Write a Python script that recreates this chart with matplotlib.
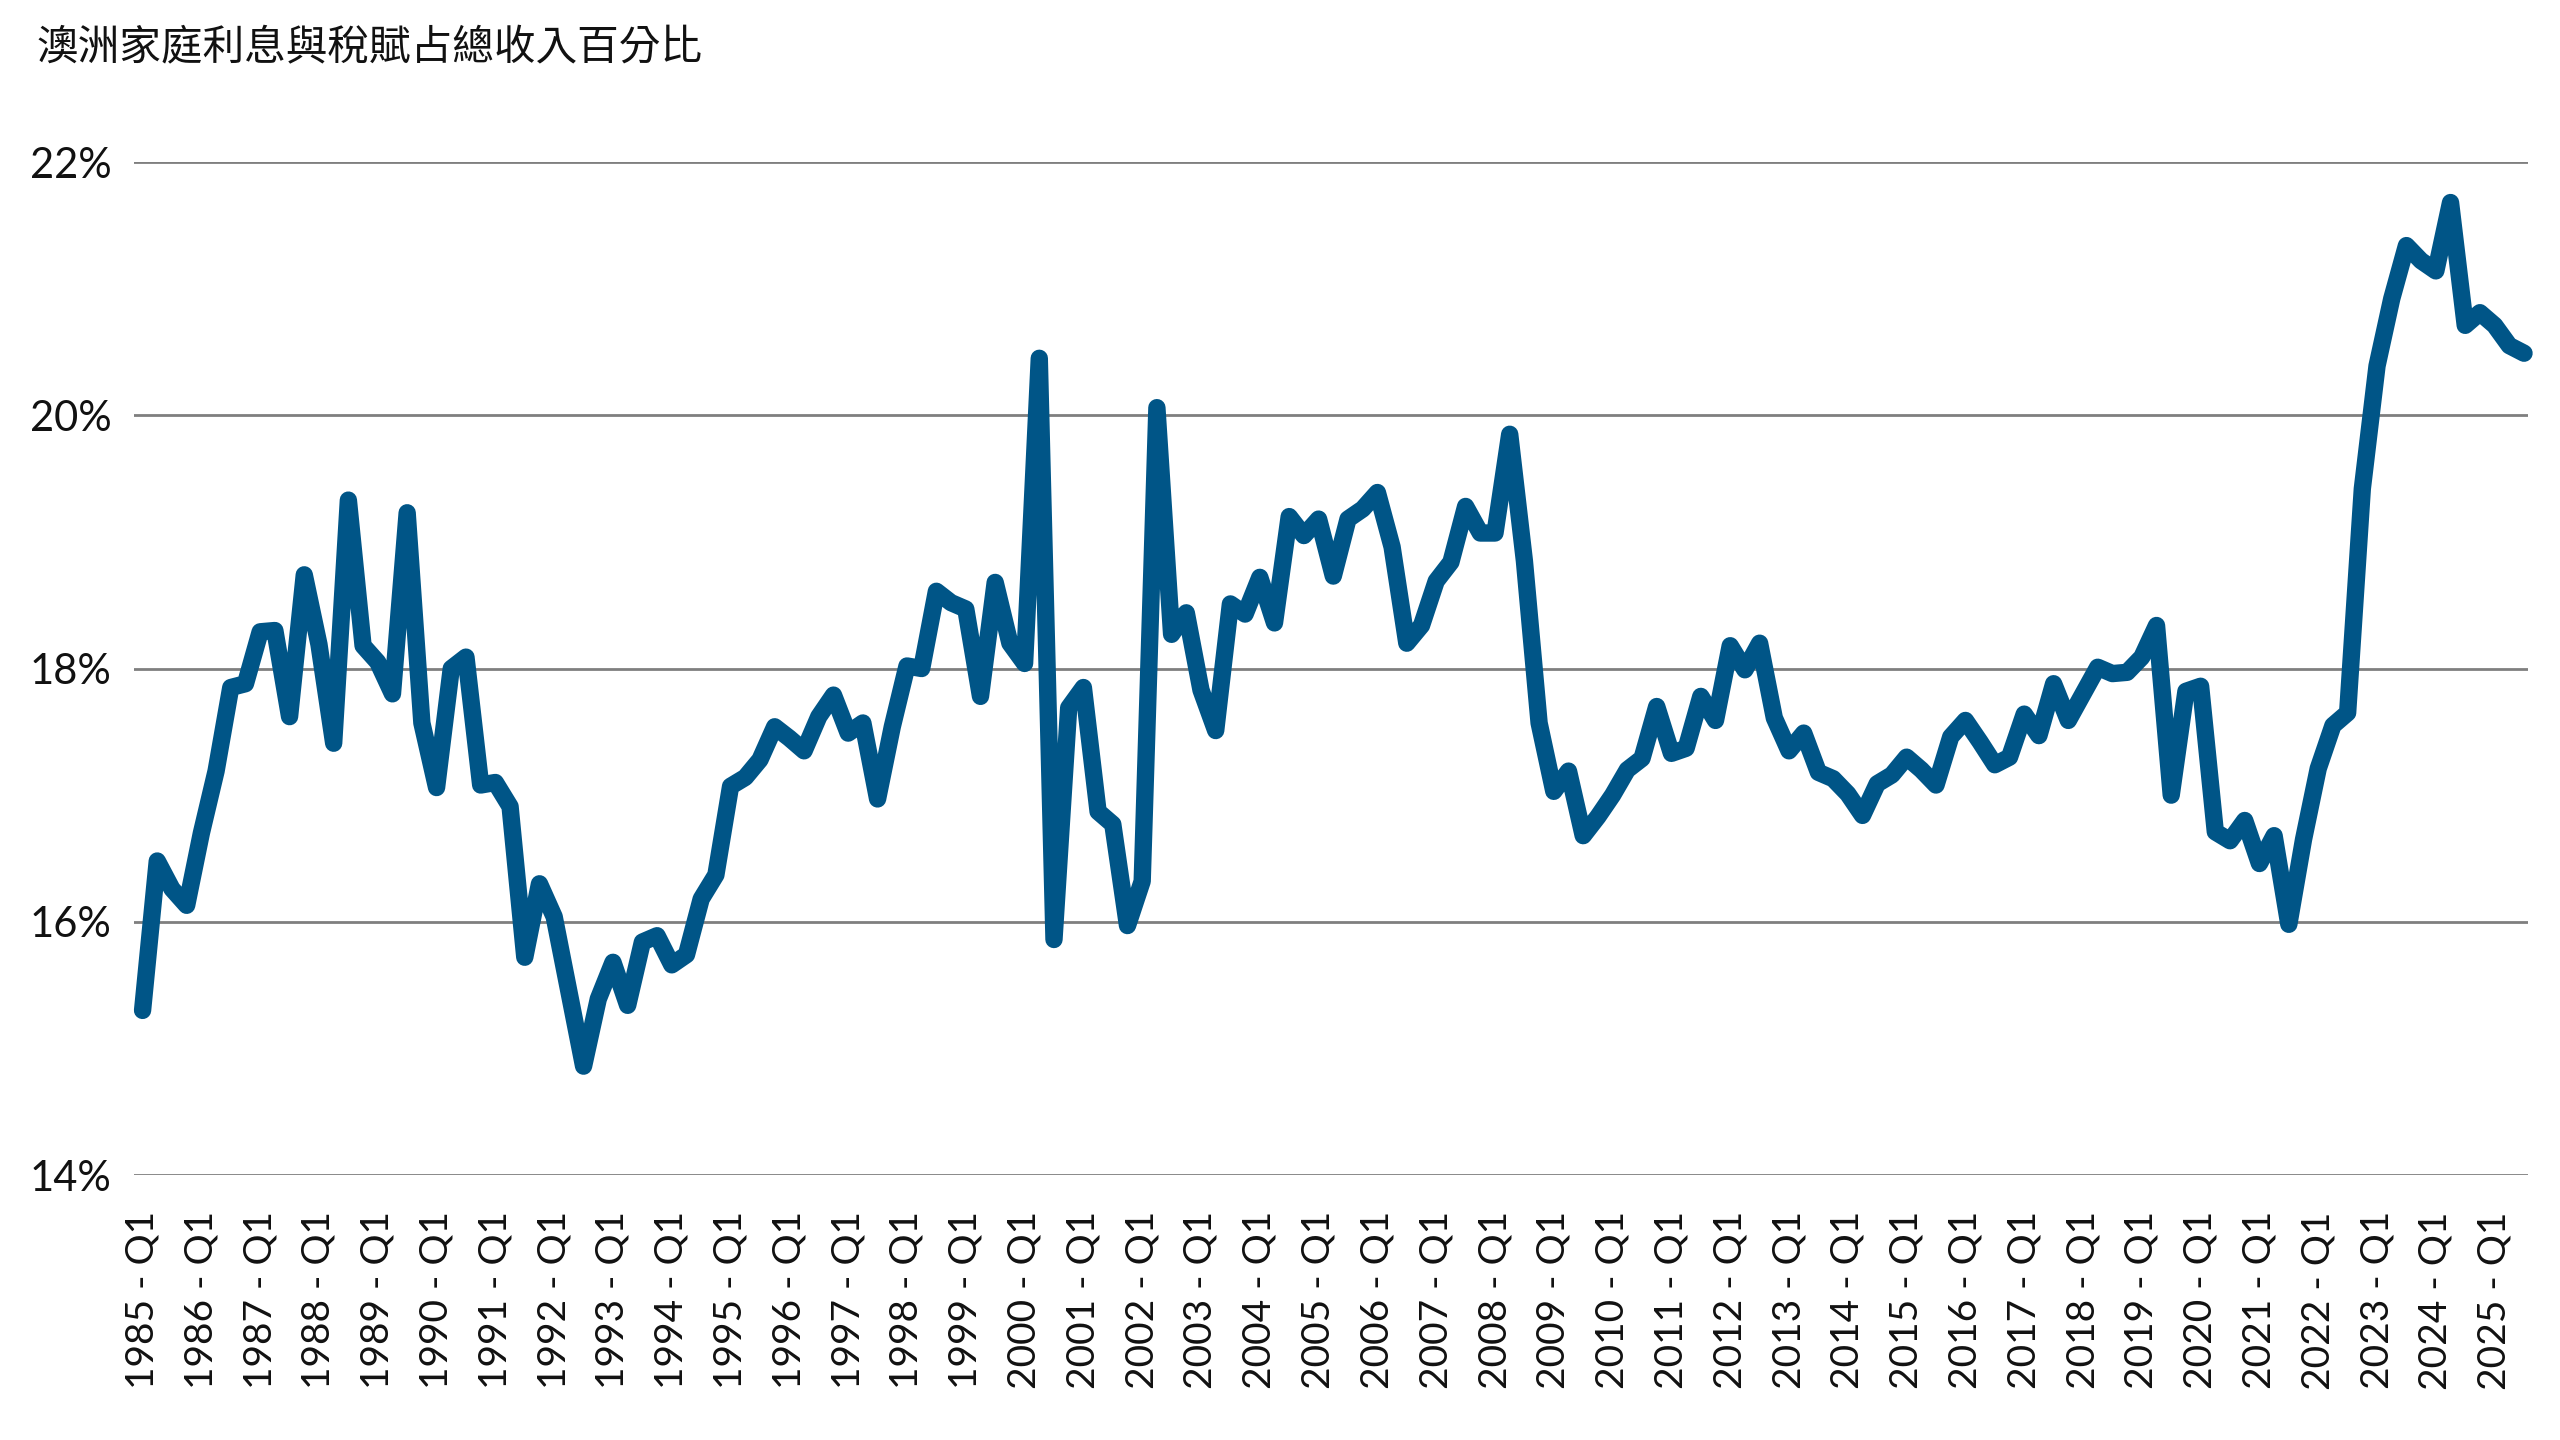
"""
Australian household interest and tax payments as a share of total income.

Quarterly line chart, 1985 Q1 onwards, saved to out.png.
"""

import matplotlib

matplotlib.use("Agg")
import matplotlib.pyplot as plt
from matplotlib.transforms import ScaledTranslation

TITLE = "澳洲家庭利息與稅賦占總收入百分比"

# Share of total income (%), quarterly from 1985 Q1 to 2025 Q3
share = [
    15.30, 16.48, 16.26, 16.13,  # 1985
    16.70, 17.19, 17.85, 17.88,  # 1986
    18.29, 18.30, 17.62, 18.74,  # 1987
    18.19, 17.41, 19.33, 18.18,  # 1988
    18.05, 17.80, 19.23, 17.57,  # 1989
    17.06, 18.00, 18.09, 17.08,  # 1990
    17.10, 16.91, 15.72, 16.30,  # 1991
    16.04, 15.45, 14.86, 15.39,  # 1992
    15.68, 15.34, 15.84, 15.89,  # 1993
    15.66, 15.74, 16.18, 16.37,  # 1994
    17.07, 17.14, 17.28, 17.54,  # 1995
    17.45, 17.35, 17.62, 17.79,  # 1996
    17.49, 17.57, 16.97, 17.54,  # 1997
    18.02, 18.00, 18.61, 18.52,  # 1998
    18.47, 17.78, 18.68, 18.20,  # 1999
    18.04, 20.45, 15.86, 17.69,  # 2000
    17.85, 16.87, 16.77, 15.97,  # 2001
    16.32, 20.06, 18.27, 18.44,  # 2002
    17.83, 17.51, 18.51, 18.43,  # 2003
    18.72, 18.36, 19.20, 19.05,  # 2004
    19.18, 18.73, 19.18, 19.26,  # 2005
    19.39, 18.96, 18.20, 18.34,  # 2006
    18.69, 18.84, 19.28, 19.07,  # 2007
    19.07, 19.85, 18.85, 17.57,  # 2008
    17.03, 17.19, 16.68, 16.83,  # 2009
    17.00, 17.20, 17.29, 17.70,  # 2010
    17.33, 17.37, 17.78, 17.59,  # 2011
    18.18, 17.99, 18.20, 17.61,  # 2012
    17.35, 17.49, 17.18, 17.13,  # 2013
    17.01, 16.84, 17.09, 17.16,  # 2014
    17.30, 17.20, 17.08, 17.46,  # 2015
    17.59, 17.42, 17.24, 17.30,  # 2016
    17.64, 17.47, 17.88, 17.59,  # 2017
    17.80, 18.01, 17.96, 17.97,  # 2018
    18.09, 18.34, 17.00, 17.82,  # 2019
    17.86, 16.71, 16.64, 16.80,  # 2020
    16.46, 16.68, 15.98, 16.65,  # 2021
    17.21, 17.55, 17.65, 19.42,  # 2022
    20.39, 20.92, 21.34, 21.22,  # 2023
    21.14, 21.68, 20.71, 20.81,  # 2024
    20.71, 20.55, 20.49,         # 2025
]

tick_years = list(range(1985, 2026))
y_ticks = [14, 16, 18, 20, 22]

LINE_COLOR = "#005587"
GRID_COLOR = "#7f7f7f"
TEXT_COLOR = "#111111"
TICK_FONT = ["Lato", "DejaVu Sans"]
CJK_FONT = ["Noto Sans CJK TC", "DejaVu Sans"]


def plot_share(save_path: str = "out.png") -> None:
    """Draw the income share line chart and save it."""
    fig = plt.figure(figsize=(25.6, 14.4), dpi=100)
    ax = fig.add_axes([0.0523, 0.184, 0.9352, 0.7035])

    x = list(range(len(share)))
    ax.plot(
        x,
        share,
        color=LINE_COLOR,
        lw=12.5,
        solid_joinstyle="round",
        solid_capstyle="round",
        clip_on=False,
        zorder=3,
    )

    ax.set_xlim(-0.59, len(share) - 1 + 0.27)
    ax.set_ylim(14, 22)

    ax.set_yticks(y_ticks)
    ax.set_yticklabels([f"{v}%" for v in y_ticks])
    ax.set_xticks([4 * i for i in range(len(tick_years))])
    ax.set_xticklabels([f"{y} - Q1" for y in tick_years], rotation=90)

    # the source chart's labels drift slightly right of their quarter
    n_lab = len(tick_years)
    for i, lab in enumerate(ax.get_xticklabels()):
        px = 9 + 12 * i / (n_lab - 1)
        shift = ScaledTranslation(px / 100, 0, fig.dpi_scale_trans)
        lab.set_transform(lab.get_transform() + shift)
        lab.set_fontsize(28)

    for lab in ax.get_yticklabels():
        lab.set_fontsize(30)

    for lab in ax.get_xticklabels() + ax.get_yticklabels():
        lab.set_family(TICK_FONT)
        lab.set_fontweight("normal")
        lab.set_color(TEXT_COLOR)

    ax.tick_params(axis="x", length=0, pad=26)
    ax.tick_params(axis="y", length=0, pad=16)
    ax.grid(axis="y", color=GRID_COLOR, lw=2)
    ax.grid(axis="x", visible=False)
    ax.set_axisbelow(True)
    for spine in ax.spines.values():
        spine.set_visible(False)

    fig.text(
        36 / 2560,
        1 - 49 / 1440,
        TITLE,
        ha="left",
        va="center",
        fontsize=30,
        family=CJK_FONT,
        color=TEXT_COLOR,
    )

    fig.savefig(save_path, dpi=100)
    plt.close(fig)


if __name__ == "__main__":
    plot_share("out.png")
